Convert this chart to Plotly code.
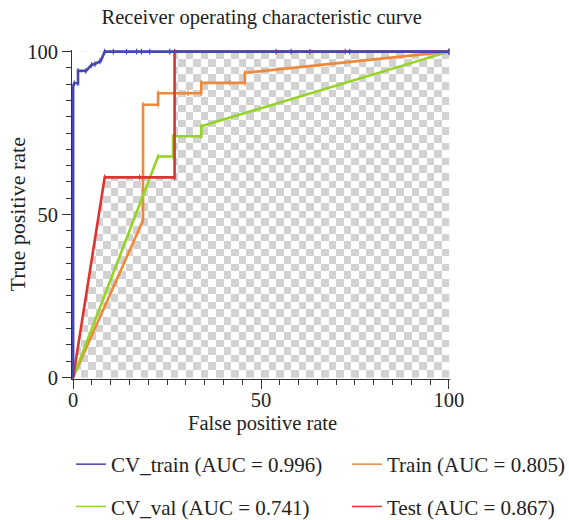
import plotly.graph_objects as go

# ---- data ----
cv_train_fpr = [0, 0, 0.3, 1.3, 1.3, 3.4, 4.9, 5.8, 7.1, 7.5, 8.4, 10.7, 14.2, 16.9, 18.2, 20.4, 25.7, 58, 73.6, 100]
cv_train_tpr = [0, 89.3, 90.3, 90.3, 94.1, 94.1, 95.9, 96.2, 97, 97.5, 100, 100, 100, 100, 100, 100, 100, 100, 100, 100]

train_fpr = [0, 18.6, 18.6, 22.6, 22.6, 30.6, 34.1, 34.1, 41.7, 45.7, 45.7, 100]
train_tpr = [0, 48.2, 83.7, 83.7, 87.2, 87.2, 87.2, 90.4, 90.4, 90.4, 93.5, 100]

cv_val_fpr = [0, 22.6, 26.6, 26.6, 34.1, 34.1, 100]
cv_val_tpr = [0, 67.8, 67.8, 74.0, 74.0, 77.1, 100]

test_fpr = [0, 8.4, 17.7, 27, 27, 54, 63, 72.4, 100]
test_tpr = [0, 61.4, 61.4, 61.4, 100, 100, 100, 100, 100]

names = ["CV_train (AUC = 0.996)", "Train (AUC = 0.805)",
         "CV_val (AUC = 0.741)", "Test (AUC = 0.867)"]
colors = {"cv_train": "#4646b4", "train": "#f0883a", "cv_val": "#94d424", "test": "#e0322e"}

FONT = "Liberation Serif"
FS = 20.5

fig = go.Figure()

# checkerboard background texture (transparency artefact of the reference)
ncols, nrows = 50, 43
z = [[(i + j) % 2 for i in range(ncols)] for j in range(nrows)]
fig.add_trace(go.Heatmap(z=z, x0=1, dx=100 / ncols, y0=50 / nrows, dy=100 / nrows,
                         colorscale=[[0, "#ffffff"], [1, "#d2d2d2"]], showscale=False,
                         hoverinfo="skip", zsmooth=False))
# white area above the test curve
fig.add_trace(go.Scatter(x=test_fpr + [0], y=test_tpr + [100], fill="toself",
                         fillcolor="#ffffff", mode="none", hoverinfo="skip", showlegend=False))

def curve(x, y, col):
    fig.add_trace(go.Scatter(x=x, y=y, mode="lines+markers",
                             line=dict(color=col, width=2.6),
                             marker=dict(symbol="line-ns-open", size=4, line=dict(color=col, width=1.2)),
                             showlegend=False, cliponaxis=False))

curve(train_fpr, train_tpr, colors["train"])
curve(cv_val_fpr, cv_val_tpr, colors["cv_val"])
curve(test_fpr, test_tpr, colors["test"])
curve(cv_train_fpr, cv_train_tpr, colors["cv_train"])

# legend entries
leg = [(names[0], colors["cv_train"], "legend", "a"),
       (names[2], colors["cv_val"], "legend", "b"),
       (names[1], colors["train"], "legend2", "a"),
       (names[3], colors["test"], "legend2", "b")]
for n, c, lg, grp in leg:
    fig.add_trace(go.Scatter(x=[None], y=[None], mode="lines", name=n,
                             line=dict(color=c, width=1.5), legend=lg, legendgroup=grp))

axis_common = dict(showline=True, linecolor="#333333", linewidth=1, ticks="outside",
                   tickvals=[0, 50, 100], ticklen=9, tickcolor="#333333", showgrid=False,
                   zeroline=False,
                   tickfont=dict(family=FONT, size=FS, color="#222222"),
                   minor=dict(dtick=5, tick0=0, ticks="outside", ticklen=5, tickcolor="#333333", showgrid=False))

legend_common = dict(xref="container", yref="container", xanchor="left", yanchor="top",
                     orientation="v", tracegroupgap=12,
                     font=dict(family=FONT, size=21, color="#222222"), bgcolor="rgba(0,0,0,0)")

fig.update_layout(
    width=569, height=520,
    margin=dict(l=72, r=119, t=50, b=141, autoexpand=False),
    paper_bgcolor="white", plot_bgcolor="white",
    title=dict(text="Receiver operating characteristic curve", x=0.46, xanchor="center",
               y=1 - 17 / 520, yref="container", yanchor="middle",
               font=dict(family=FONT, size=FS, color="#222222")),
    xaxis=dict(range=[-0.3, 100.3], ticklabelstandoff=-7, **axis_common),
    yaxis=dict(range=[-0.5, 100.5], **axis_common),
    legend=dict(x=71 / 569, y=1 - 444 / 520, **legend_common),
    legend2=dict(x=347 / 569, y=1 - 444 / 520, **legend_common),
    annotations=[
        dict(text="False positive rate", xref="paper", yref="paper", x=0.503, y=-0.135,
             xanchor="center", yanchor="middle", showarrow=False,
             font=dict(family=FONT, size=FS, color="#222222")),
        dict(text="True positive rate", xref="paper", yref="paper", x=-0.143, y=0.5,
             xanchor="center", yanchor="middle", textangle=-90, showarrow=False,
             font=dict(family=FONT, size=22, color="#222222")),
    ],
)

fig.write_html("out.html", config={"displayModeBar": False},
               post_script="document.body.style.margin='0';")
